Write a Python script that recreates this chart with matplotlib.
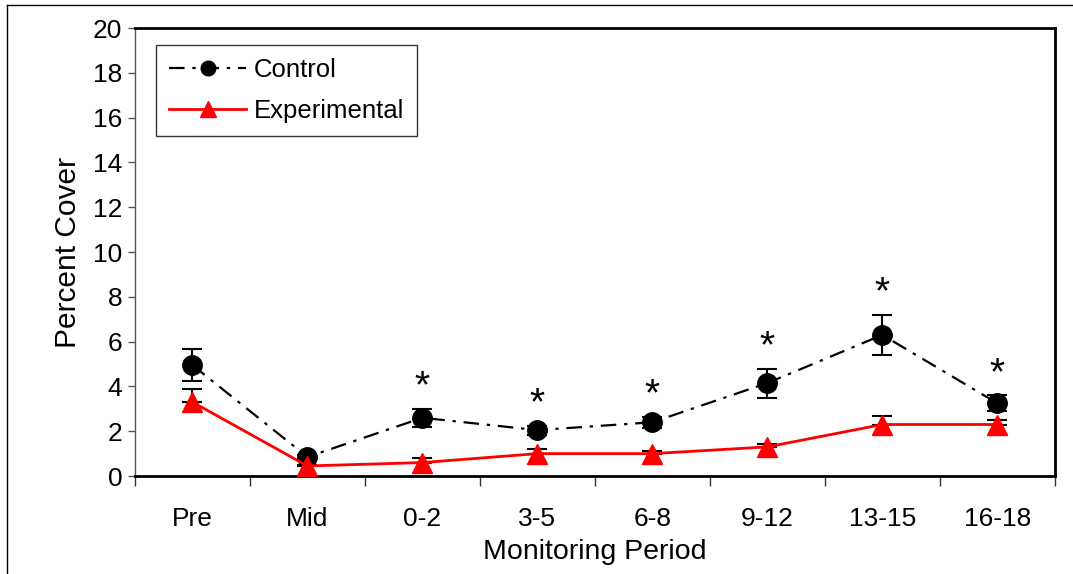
import numpy as np
import matplotlib.pyplot as plt
from matplotlib.lines import Line2D

plt.rcParams['font.family'] = ['Liberation Sans', 'DejaVu Sans']

periods = ['Pre', 'Mid', '0-2', '3-5', '6-8', '9-12', '13-15', '16-18']
control = [4.95, 0.85, 2.6, 2.05, 2.4, 4.15, 6.3, 3.25]
control_err = [0.72, 0.1, 0.4, 0.2, 0.25, 0.65, 0.9, 0.35]
experimental = [3.3, 0.45, 0.6, 1.0, 1.0, 1.3, 2.3, 2.3]
experimental_err = [0.6, 0.05, 0.2, 0.2, 0.1, 0.15, 0.4, 0.2]
significant = [False, False, True, True, True, True, True, True]

fig = plt.figure(figsize=(10.73, 5.74), dpi=100)
ax = fig.add_axes([0.1258, 0.1707, 0.8572, 0.7803])
x = np.arange(len(periods))

# error bars behind the markers, experimental only upward
ax.errorbar(x, control, yerr=control_err, fmt='none', ecolor='black',
            elinewidth=1.5, capsize=7, capthick=1.5, zorder=2)
ax.errorbar(x, experimental, yerr=[np.zeros(len(x)), experimental_err], fmt='none',
            ecolor='black', elinewidth=1.5, capsize=7, capthick=1.5, zorder=2)
ax.plot(x, control, color='black', linestyle=(0, (7, 3.5, 1.5, 3.5)), linewidth=1.6,
        marker='o', markersize=14, label='Control', zorder=3)
ax.plot(x, experimental, color='red', linestyle='-', linewidth=2,
        marker='^', markersize=15, label='Experimental', zorder=4)

for i, sig in enumerate(significant):
    if sig:
        ax.text(x[i], control[i] + control_err[i] + 0.95, '*', ha='center',
                va='center', fontsize=28)

ax.set_xlim(-0.5, len(periods) - 0.5)
ax.set_ylim(0, 20)
ax.set_yticks(np.arange(0, 21, 2))
ax.set_xticks(np.arange(-0.5, len(periods), 1))
ax.set_xticklabels([])
ax.set_xticks(x, minor=True)
ax.set_xticklabels(periods, minor=True)
ax.tick_params(axis='x', which='major', direction='out', length=7, width=1, color='#333333')
ax.tick_params(axis='x', which='minor', length=0, labelsize=19, pad=22)
ax.tick_params(axis='y', direction='out', length=5, width=1, color='#555555',
               labelsize=19, pad=4)

for side in ['top', 'right', 'bottom']:
    ax.spines[side].set_linewidth(2)
    ax.spines[side].set_color('black')
ax.spines['left'].set_linewidth(1)
ax.spines['left'].set_color('#555555')

ax.set_xlabel('Monitoring Period', fontsize=20.5, labelpad=6)
ax.set_ylabel('Percent Cover', fontsize=21.5, labelpad=8)

leg = ax.legend(loc='upper left', bbox_to_anchor=(0.023, 0.962), fontsize=18.5,
                frameon=True, fancybox=False, edgecolor='#333333', framealpha=1,
                handlelength=3.0, handletextpad=0.3, borderpad=0.5,
                labelspacing=0.65, borderaxespad=0, markerscale=0.75)
leg.get_frame().set_linewidth(1)

fig.add_artist(Line2D([7 / 1073, 7 / 1073], [0, 1 - 5 / 574], color='black', linewidth=1))
fig.add_artist(Line2D([7 / 1073, 1], [1 - 5 / 574, 1 - 5 / 574], color='black', linewidth=1))

plt.savefig('out.png', dpi=100)
